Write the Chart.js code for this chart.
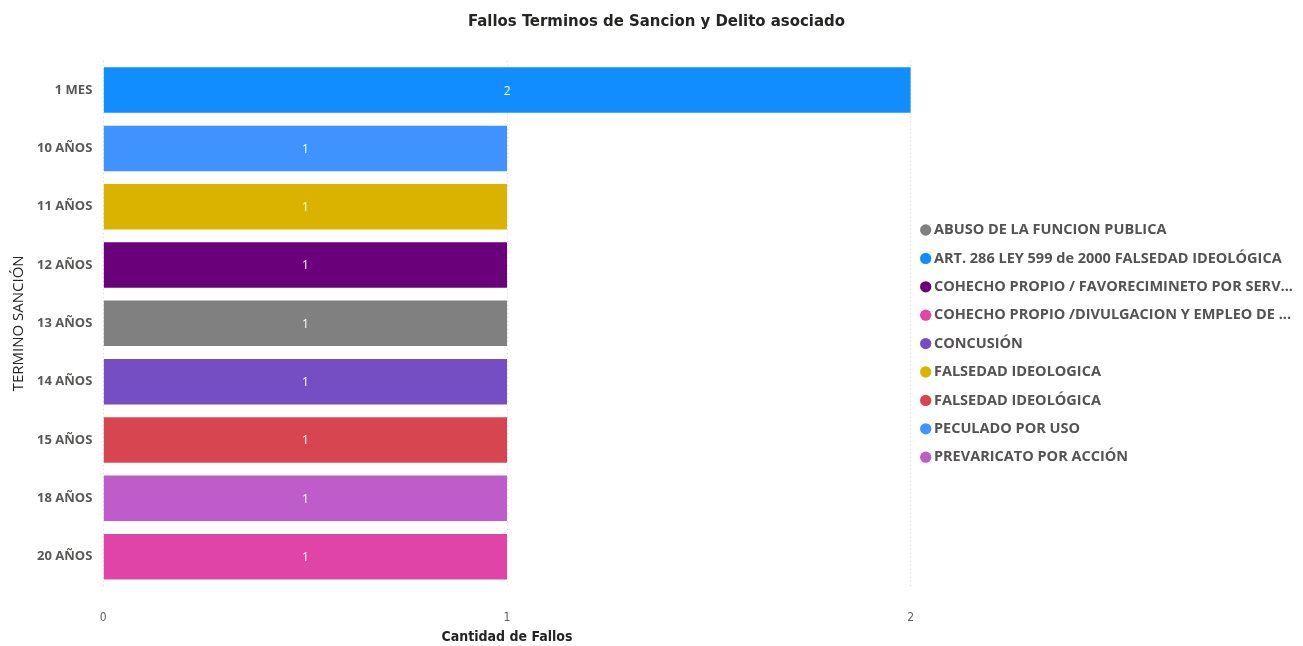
<!DOCTYPE html>
<html>
<head>
<meta charset="utf-8">
<script src="https://cdn.jsdelivr.net/npm/chart.js@4/dist/chart.umd.min.js"></script>
<style>
  html, body { margin: 0; padding: 0; background: #fff; }
  #wrap { width: 1303px; height: 646px; }
</style>
</head>
<body>
<div id="wrap"><canvas id="chart"></canvas></div>
<script>
// sanction terms on the y axis
const terms = ['1 MES', '10 AÑOS', '11 AÑOS', '12 AÑOS', '13 AÑOS', '14 AÑOS', '15 AÑOS', '18 AÑOS', '20 AÑOS'];

// offences (legend order) with their colour and the term each ruling falls in
const offences = [
    'ABUSO DE LA FUNCION PUBLICA',
    'ART. 286 LEY 599 de 2000 FALSEDAD IDEOLÓGICA',
    'COHECHO PROPIO / FAVORECIMINETO POR SERV...',
    'COHECHO PROPIO /DIVULGACION Y EMPLEO DE ...',
    'CONCUSIÓN',
    'FALSEDAD IDEOLOGICA',
    'FALSEDAD IDEOLÓGICA',
    'PECULADO POR USO',
    'PREVARICATO POR ACCIÓN'
];
const offenceColors = ['#808080', '#118DFF', '#6B007B', '#E044A7', '#744EC2', '#D9B300', '#D64550', '#4092FF', '#BE5DC9'];
const offenceTerm = ['13 AÑOS', '1 MES', '12 AÑOS', '20 AÑOS', '14 AÑOS', '11 AÑOS', '15 AÑOS', '10 AÑOS', '18 AÑOS'];
const offenceCount = [1, 2, 1, 1, 1, 1, 1, 1, 1];

const datasets = offences.map((name, i) => ({
    label: name,
    data: terms.map(t => t === offenceTerm[i] ? offenceCount[i] : null),
    backgroundColor: offenceColors[i],
    borderWidth: 0,
    barPercentage: 0.78,
    categoryPercentage: 1
}));

// value written in the middle of each bar
const barValues = {
    id: 'barValues',
    afterDatasetsDraw(chart) {
        const ctx = chart.ctx;
        ctx.save();
        ctx.fillStyle = '#ffffff';
        ctx.font = '12px "Open Sans"';
        ctx.textAlign = 'center';
        ctx.textBaseline = 'middle';
        chart.data.datasets.forEach((ds, i) => {
            chart.getDatasetMeta(i).data.forEach((bar, j) => {
                const v = ds.data[j];
                if (v == null) return;
                ctx.fillText(String(v), (bar.x + bar.base) / 2, bar.y + 1);
            });
        });
        ctx.restore();
    }
};

new Chart(document.getElementById('chart'), {
    type: 'bar',
    data: { labels: terms, datasets: datasets },
    plugins: [barValues],
    options: {
        indexAxis: 'y',
        responsive: true,
        maintainAspectRatio: false,
        animation: false,
        layout: { padding: { left: 10, right: 0, top: 6, bottom: 0 } },
        scales: {
            x: {
                stacked: true,
                min: 0,
                max: 2,
                ticks: { stepSize: 1, color: '#605E5C', font: { family: '"DejaVu Sans Condensed"', size: 12 }, padding: 25 },
                grid: { color: '#d4d4d4', drawTicks: false },
                border: { display: false, dash: [1, 3] },
                // title sits right under the tick labels, so its top padding eats the second tick gap
                title: { display: true, text: 'Cantidad de Fallos', color: '#252423', font: { family: '"DejaVu Sans Condensed"', size: 14, weight: 'bold' }, padding: { top: -21, bottom: 0 } }
            },
            y: {
                stacked: true,
                ticks: { color: '#5a5856', font: { family: '"Open Sans"', size: 13, weight: 'bold' }, padding: 11 },
                grid: { display: false, drawTicks: false },
                border: { display: false },
                title: { display: true, text: 'TERMINO SANCIÓN', color: '#252423', font: { family: '"Open Sans"', size: 15 }, padding: { top: 0, bottom: -2 } }
            }
        },
        plugins: {
            title: {
                display: true,
                text: 'Fallos Terminos de Sancion y Delito asociado',
                color: '#252423',
                font: { family: '"DejaVu Sans Condensed"', size: 16.6, weight: 'bold' },
                padding: { top: 6, bottom: 29 }
            },
            legend: {
                position: 'right',
                align: 'center',
                maxWidth: 400,
                title: { display: true, text: '', font: { size: 1 }, padding: { top: 17, bottom: 17 } },
                labels: {
                    usePointStyle: true,
                    pointStyle: 'circle',
                    boxWidth: 2,
                    boxHeight: 8,
                    padding: 13.9,
                    color: '#555352',
                    font: { family: '"Open Sans"', size: 14.5, weight: 'bold' }
                }
            },
            tooltip: { enabled: false }
        }
    }
});
</script>
</body>
</html>
